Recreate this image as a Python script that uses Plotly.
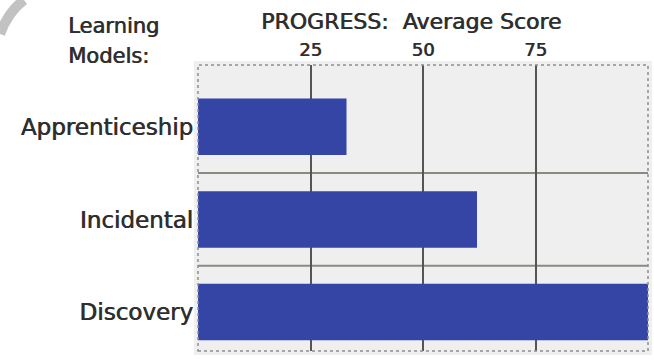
import plotly.graph_objects as go

categories = ["Apprenticeship", "Incidental", "Discovery"]
scores = [33, 62, 100]
tick_vals = [25, 50, 75]
tick_text = ["25", "50", "75"]

W, H = 654, 361
L, R, T, B = 198, 6, 65, 10
PW, PH = W - L - R, H - T - B


def px(x):
    return (x - L) / PW


def py(y):
    return (H - B - y) / PH


FONT = "DejaVu Sans"
TXT = "#2e2e2e"
SHADOW = "0.7px 0 0 #3a3a3a"


def f(size):
    return dict(size=size, color=TXT, family=FONT, shadow=SHADOW)


fig = go.Figure()
fig.add_trace(go.Bar(
    x=scores, y=categories, orientation="h",
    marker=dict(color="#3545a6", line=dict(width=0)),
    hoverinfo="skip",
))

shapes = []
# category separators
for yv in [0.5, 1.5]:
    shapes.append(dict(type="line", xref="paper", yref="y", x0=0, x1=1, y0=yv, y1=yv,
                       line=dict(color="#8a8a80", width=2), layer="below"))
# dotted frame
shapes.append(dict(type="rect", xref="paper", yref="paper", x0=0, x1=1, y0=0, y1=1,
                   line=dict(color="#8f8f8f", width=1.5, dash="dot"), layer="above"))
# page-curl artifact in top-left corner
shapes.append(dict(type="path", xref="paper", yref="paper",
                   path=f"M {px(0)},{py(34)} Q {px(8)},{py(12)} {px(24)},{py(0)}",
                   line=dict(color="#c2c2c2", width=10)))

fig.update_layout(
    width=W, height=H,
    margin=dict(l=L, r=R, t=T, b=B, pad=4),
    paper_bgcolor="white",
    plot_bgcolor="#efefef",
    showlegend=False,
    bargap=0.39,
    shapes=shapes,
    font=dict(family=FONT, color=TXT),
    xaxis=dict(side="top", range=[0, 100], tickvals=tick_vals, ticktext=tick_text,
               showgrid=True, gridcolor="#555555", gridwidth=2, zeroline=False,
               showline=False, ticks="", tickfont=f(18)),
    yaxis=dict(categoryorder="array", categoryarray=categories,
               range=[2.42, -0.667],
               showgrid=False, zeroline=False, showline=False, ticks="",
               tickfont=f(23)),
    annotations=[
        dict(text="PROGRESS:  Average Score", xref="paper", yref="paper",
             x=px(411), y=py(22), xanchor="center", yanchor="middle", showarrow=False,
             font=f(22)),
        dict(text="Learning", xref="paper", yref="paper",
             x=px(66), y=py(26), xanchor="left", yanchor="middle", align="left",
             showarrow=False, font=f(21)),
        dict(text="Models:", xref="paper", yref="paper",
             x=px(66), y=py(56), xanchor="left", yanchor="middle", align="left",
             showarrow=False, font=f(21)),
    ],
)

fig.write_html("out.html")
